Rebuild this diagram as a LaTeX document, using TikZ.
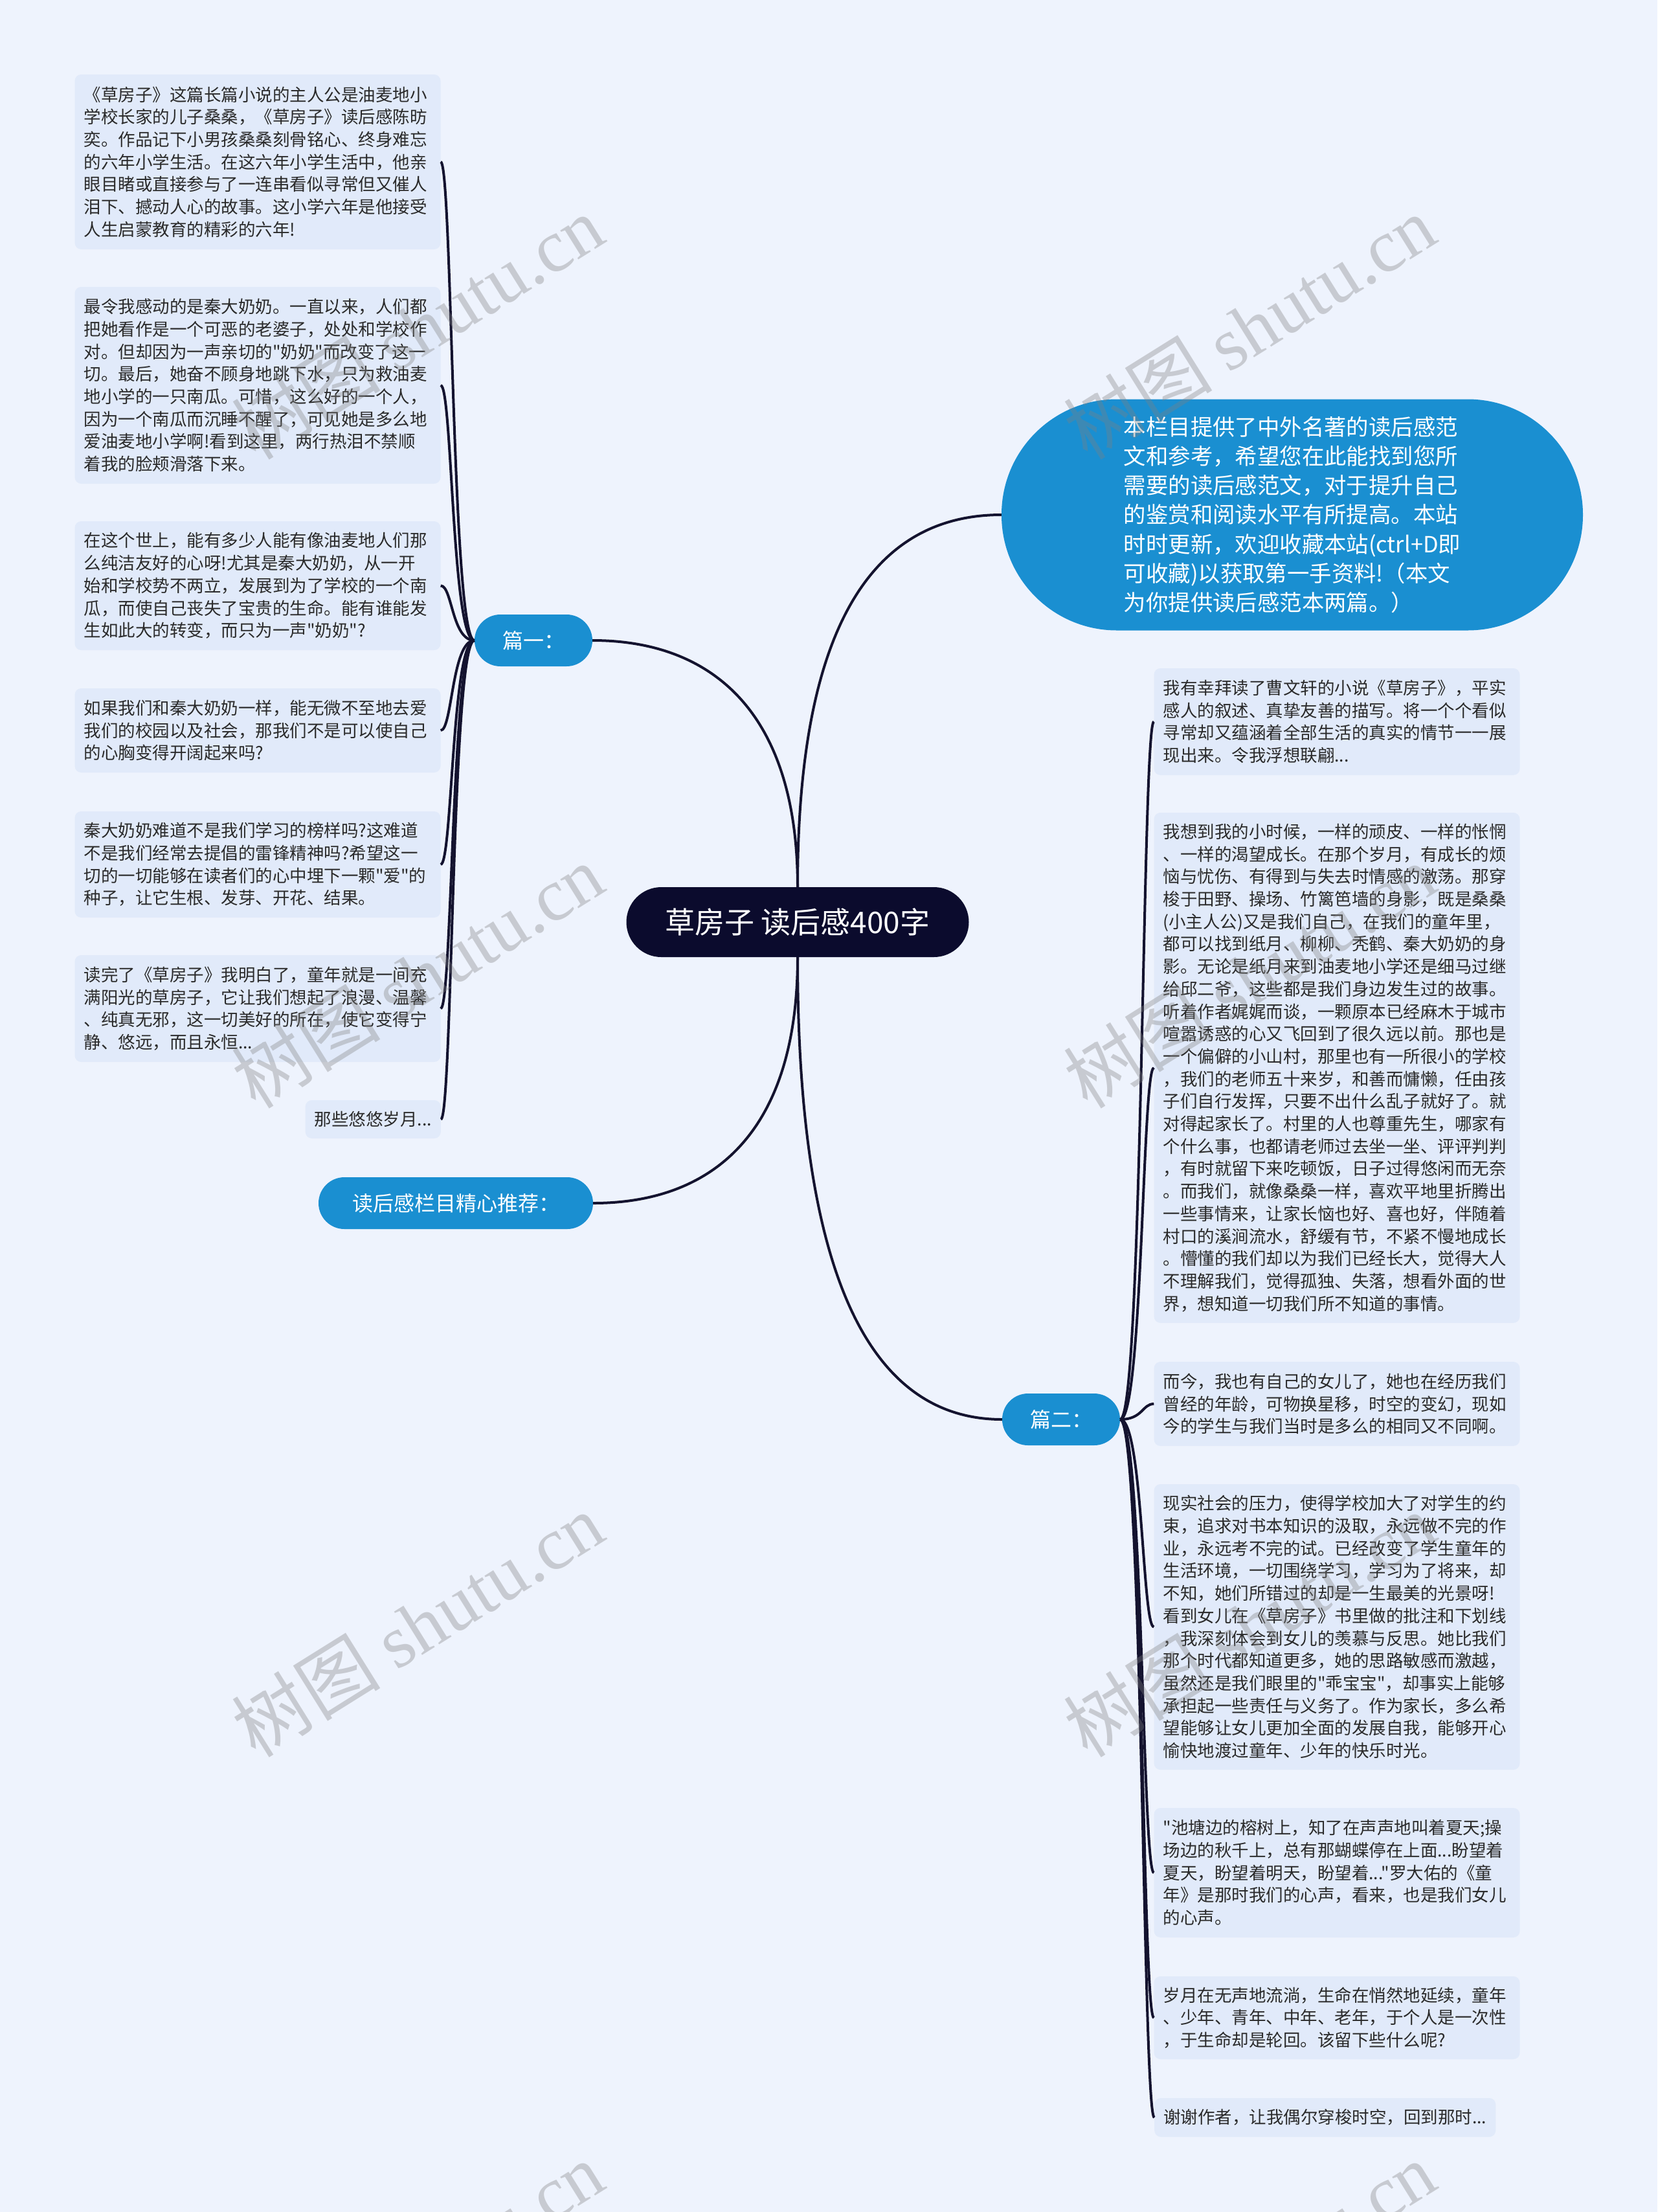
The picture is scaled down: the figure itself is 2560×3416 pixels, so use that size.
\documentclass[tikz,border=0pt]{standalone}
\usepackage{fontspec}
\setmainfont{Noto Sans CJK SC}[Ligatures=TeXOff]
\newfontfamily\wmlatin{Liberation Serif}
\definecolor{bgc}{HTML}{EEF3FD}
\definecolor{leafbg}{HTML}{E1EAFA}
\definecolor{blueone}{HTML}{1A8FD1}
\definecolor{navy}{HTML}{0B0B2D}
\definecolor{linec}{HTML}{14132F}
\definecolor{txtc}{HTML}{2A2A2A}
\begin{document}
\begin{tikzpicture}[x=1pt,y=-1pt,
  leaf/.style={fill=leafbg, rounded corners=10pt, text=txtc,
    font=\fontsize{26.5}{34.7}\selectfont, align=left, text width=537pt,
    inner xsep=14pt, inner ysep=0pt},
  leafshort/.style={fill=leafbg, rounded corners=10pt, text=txtc,
    font=\fontsize{26.5}{34.7}\selectfont, inner xsep=14pt, inner ysep=0pt},
  branch/.style={fill=blueone, text=white, rounded corners=40pt,
    minimum height=80pt, font=\fontsize{32}{38}\selectfont, inner sep=0pt},
  rootnode/.style={fill=navy, text=white, rounded corners=54pt,
    minimum width=529pt, minimum height=108pt, font=\fontsize{46}{52}\selectfont, inner sep=0pt},
  bignote/.style={fill=blueone, text=white, rounded corners=178pt,
    minimum width=898pt, minimum height=357pt, align=left,
    font=\fontsize{34.4}{45.2}\selectfont, inner sep=0pt},
  conn/.style={draw=linec, line width=4pt},
  wm/.style={text=gray, opacity=0.35, font=\fontsize{115}{120}\selectfont, rotate=32, inner sep=0pt}
]
\useasboundingbox (0,0) rectangle (2560,3416);
\fill[bgc] (0,0) rectangle (2560,3416);

% root and branches
\node[rootnode] (root) at (1232,1424) {草房子 读后感400字};
\node[branch, minimum width=182pt] (p1) at (824,989) {篇一：};
\node[branch, minimum width=424pt] (rec) at (704,1858) {读后感栏目精心推荐：};
\node[branch, minimum width=182pt] (p2) at (1639,2192) {篇二：};
\node[bignote] (note) at (1996,795) {本栏目提供了中外名著的读后感范\\文和参考，希望您在此能找到您所\\需要的读后感范文，对于提升自己\\的鉴赏和阅读水平有所提高。本站\\时时更新，欢迎收藏本站(ctrl+D即\\可收藏)以获取第一手资料!（本文\\为你提供读后感范本两篇。）};

% left leaves
\node[leaf, minimum height=270pt] (l1) at (398,250) {《草房子》这篇长篇小说的主人公是油麦地小\\学校长家的儿子桑桑，《草房子》读后感陈昉\\奕。作品记下小男孩桑桑刻骨铭心、终身难忘\\的六年小学生活。在这六年小学生活中，他亲\\眼目睹或直接参与了一连串看似寻常但又催人\\泪下、撼动人心的故事。这小学六年是他接受\\人生启蒙教育的精彩的六年!};
\node[leaf, minimum height=304pt] (l2) at (398,595) {最令我感动的是秦大奶奶。一直以来，人们都\\把她看作是一个可恶的老婆子，处处和学校作\\对。但却因为一声亲切的"奶奶"而改变了这一\\切。最后，她奋不顾身地跳下水，只为救油麦\\地小学的一只南瓜。可惜，这么好的一个人，\\因为一个南瓜而沉睡不醒了，可见她是多么地\\爱油麦地小学啊!看到这里，两行热泪不禁顺\\着我的脸颊滑落下来。};
\node[leaf, minimum height=199pt] (l3) at (398,904.5) {在这个世上，能有多少人能有像油麦地人们那\\么纯洁友好的心呀!尤其是秦大奶奶，从一开\\始和学校势不两立，发展到为了学校的一个南\\瓜，而使自己丧失了宝贵的生命。能有谁能发\\生如此大的转变，而只为一声"奶奶"?};
\node[leaf, minimum height=130pt] (l4) at (398,1128) {如果我们和秦大奶奶一样，能无微不至地去爱\\我们的校园以及社会，那我们不是可以使自己\\的心胸变得开阔起来吗?};
\node[leaf, minimum height=164pt] (l5) at (398,1335) {秦大奶奶难道不是我们学习的榜样吗?这难道\\不是我们经常去提倡的雷锋精神吗?希望这一\\切的一切能够在读者们的心中埋下一颗"爱"的\\种子，让它生根、发芽、开花、结果。};
\node[leaf, minimum height=165pt] (l6) at (398,1557.5) {读完了《草房子》我明白了，童年就是一间充\\满阳光的草房子，它让我们想起了浪漫、温馨\\、纯真无邪，这一切美好的所在，使它变得宁\\静、悠远，而且永恒...};
\node[leafshort, minimum height=59pt, anchor=east] (l7) at (681,1728.5) {那些悠悠岁月...};

% right leaves
\node[leaf, minimum height=165pt] (r1) at (2065,1114.5) {我有幸拜读了曹文轩的小说《草房子》，平实\\感人的叙述、真挚友善的描写。将一个个看似\\寻常却又蕴涵着全部生活的真实的情节一一展\\现出来。令我浮想联翩...};
\node[leaf, minimum height=788pt] (r2) at (2065,1649) {我想到我的小时候，一样的顽皮、一样的怅惘\\、一样的渴望成长。在那个岁月，有成长的烦\\恼与忧伤、有得到与失去时情感的激荡。那穿\\梭于田野、操场、竹篱笆墙的身影，既是桑桑\\(小主人公)又是我们自己，在我们的童年里，\\都可以找到纸月、柳柳、秃鹤、秦大奶奶的身\\影。无论是纸月来到油麦地小学还是细马过继\\给邱二爷，这些都是我们身边发生过的故事。\\听着作者娓娓而谈，一颗原本已经麻木于城市\\喧嚣诱惑的心又飞回到了很久远以前。那也是\\一个偏僻的小山村，那里也有一所很小的学校\\，我们的老师五十来岁，和善而慵懒，任由孩\\子们自行发挥，只要不出什么乱子就好了。就\\对得起家长了。村里的人也尊重先生，哪家有\\个什么事，也都请老师过去坐一坐、评评判判\\，有时就留下来吃顿饭，日子过得悠闲而无奈\\。而我们，就像桑桑一样，喜欢平地里折腾出\\一些事情来，让家长恼也好、喜也好，伴随着\\村口的溪涧流水，舒缓有节，不紧不慢地成长\\。懵懂的我们却以为我们已经长大，觉得大人\\不理解我们，觉得孤独、失落，想看外面的世\\界，想知道一切我们所不知道的事情。};
\node[leaf, minimum height=130pt] (r3) at (2065,2168) {而今，我也有自己的女儿了，她也在经历我们\\曾经的年龄，可物换星移，时空的变幻，现如\\今的学生与我们当时是多么的相同又不同啊。};
\node[leaf, minimum height=441pt] (r4) at (2065,2512.5) {现实社会的压力，使得学校加大了对学生的约\\束，追求对书本知识的汲取，永远做不完的作\\业，永远考不完的试。已经改变了学生童年的\\生活环境，一切围绕学习，学习为了将来，却\\不知，她们所错过的却是一生最美的光景呀!\\看到女儿在《草房子》书里做的批注和下划线\\，我深刻体会到女儿的羡慕与反思。她比我们\\那个时代都知道更多，她的思路敏感而激越，\\虽然还是我们眼里的"乖宝宝"，却事实上能够\\承担起一些责任与义务了。作为家长，多么希\\望能够让女儿更加全面的发展自我，能够开心\\愉快地渡过童年、少年的快乐时光。};
\node[leaf, minimum height=200pt] (r5) at (2065,2892) {"池塘边的榕树上，知了在声声地叫着夏天;操\\场边的秋千上，总有那蝴蝶停在上面...盼望着\\夏天，盼望着明天，盼望着..."罗大佑的《童\\年》是那时我们的心声，看来，也是我们女儿\\的心声。};
\node[leaf, minimum height=128pt] (r6) at (2065,3116) {岁月在无声地流淌，生命在悄然地延续，童年\\、少年、青年、中年、老年，于个人是一次性\\，于生命却是轮回。该留下些什么呢?};
\node[leafshort, minimum height=60pt, anchor=west] (r7) at (1783,3270) {谢谢作者，让我偶尔穿梭时空，回到那时...};

% main connectors
\draw[conn] (root.north) .. controls (1232,1100) and (1100,989) .. (p1.east);
\draw[conn] (root.north) .. controls (1232,1000) and (1330,795) .. (note.west);
\draw[conn] (root.south) .. controls (1232,1750) and (1100,1858) .. (rec.east);
\draw[conn] (root.south) .. controls (1232,1940) and (1330,2192) .. (p2.west);

% left leaf connectors
\foreach \n in {l1,l2,l3,l4,l5,l6,l7}
  \draw[conn] (p1.west) .. controls +(-35,0) and +(18,0) .. (\n.east);
% right leaf connectors
\foreach \n in {r1,r2,r3,r4,r5,r6,r7}
  \draw[conn] (p2.east) .. controls +(35,0) and +(-18,0) .. (\n.west);

% watermarks
\begin{scope}
\clip (0,0) rectangle (2560,3416);
\foreach \wx/\wy/\k in {645/505/a,1930/505/b,645/1507/c,1930/1507/d,645/2509/e,1930/2509/f,645/3511/g,1930/3511/h}
  \node[wm] (wm\k) at (\wx,\wy) {树图 {\wmlatin shutu.cn}};
\end{scope}
\end{tikzpicture}
\end{document}
